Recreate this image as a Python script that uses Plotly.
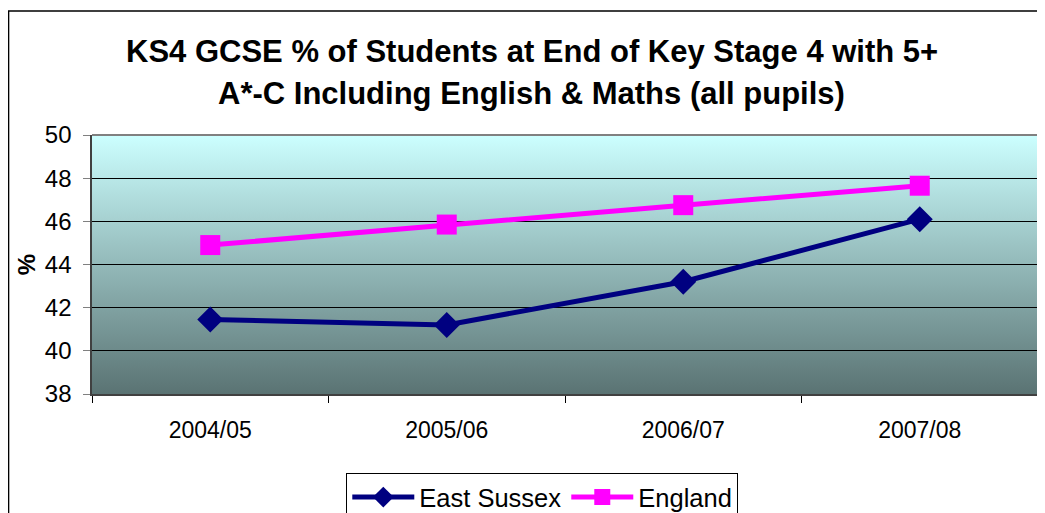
import base64
import plotly.graph_objects as go

years = ["2004/05", "2005/06", "2006/07", "2007/08"]
east_sussex = [41.45, 41.2, 43.2, 46.1]
england = [44.9, 45.85, 46.75, 47.65]

fig = go.Figure()

fig.add_trace(go.Scatter(
    x=years, y=east_sussex, name="East Sussex",
    mode="lines+markers",
    line=dict(color="#000080", width=5),
    marker=dict(symbol="diamond", size=20, color="#000080"),
))
fig.add_trace(go.Scatter(
    x=years, y=england, name="England",
    mode="lines+markers",
    line=dict(color="#FF00FF", width=5),
    marker=dict(symbol="square", size=20, color="#FF00FF"),
))

# gradient plot background (svg image stretched over the plot area)
svg = (
    '<svg xmlns="http://www.w3.org/2000/svg" width="100" height="100" preserveAspectRatio="none">'
    '<defs><linearGradient id="g" x1="0" y1="0" x2="0" y2="1">'
    '<stop offset="0" stop-color="#CCFFFF"/>'
    '<stop offset="1" stop-color="#5A7373"/>'
    '</linearGradient></defs>'
    '<rect width="100" height="100" fill="url(#g)"/></svg>'
)
bg = "data:image/svg+xml;base64," + base64.b64encode(svg.encode()).decode()

fig.add_layout_image(dict(
    source=bg, xref="x domain", yref="y domain",
    x=0, y=1, sizex=1, sizey=1, sizing="stretch",
    xanchor="left", yanchor="top", layer="below",
))

shapes = [
    # top and right edges of the plot area
    dict(type="line", xref="x domain", yref="y domain", x0=0, x1=1, y0=1, y1=1,
         line=dict(color="#808080", width=2)),
    dict(type="line", xref="x domain", yref="y domain", x0=1, x1=1, y0=0, y1=1,
         line=dict(color="#808080", width=2)),
    # outer chart border
    dict(type="rect", xref="paper", yref="paper",
         x0=-0.0882, x1=1.05, y0=-0.7, y1=1.479,
         line=dict(color="black", width=1.5), layer="below"),
]

# page body adds an 8px offset, margins are set with that in mind
fig.update_layout(
    width=1045, height=513,
    margin=dict(l=84, r=15, t=127, b=127, autoexpand=False),
    paper_bgcolor="white",
    plot_bgcolor="rgba(0,0,0,0)",
    font=dict(family="Liberation Sans, Arial, sans-serif", color="black"),
    shapes=shapes,
    showlegend=True,
    legend=dict(
        orientation="h", x=0.476, xanchor="center", y=-0.305, yanchor="top",
        bordercolor="black", borderwidth=1, font=dict(size=25.5),
        itemwidth=62, tracegroupgap=0,
    ),
)

# two title lines
fig.add_annotation(
    text="<b>KS4 GCSE % of Students at End of Key Stage 4 with 5+</b>",
    xref="paper", yref="paper", x=0.4651, y=1.324, yanchor="middle",
    showarrow=False, font=dict(size=31),
)
fig.add_annotation(
    text="<b>A*-C Including English & Maths (all pupils)</b>",
    xref="paper", yref="paper", x=0.4651, y=1.162, yanchor="middle",
    showarrow=False, font=dict(size=31),
)

fig.update_xaxes(
    type="category", range=[-0.5, 3.5], showgrid=False,
    showline=True, linecolor="#404040", linewidth=2,
    ticks="outside", tickson="boundaries", ticklen=7, tickcolor="black",
    tickfont=dict(size=23), ticklabelstandoff=14, automargin=False,
)
fig.update_yaxes(
    range=[38, 50], dtick=2,
    showgrid=True, gridcolor="black", gridwidth=1,
    showline=True, linecolor="#404040", linewidth=2,
    ticks="outside", ticklen=7, tickcolor="#808080",
    tickfont=dict(size=24),
    ticksuffix='<span style="color:rgba(0,0,0,0)">.</span>',
    title=dict(text="<b>%</b>", font=dict(size=24), standoff=2),
    zeroline=False, automargin=False,
)

fig.write_html("out.html")
